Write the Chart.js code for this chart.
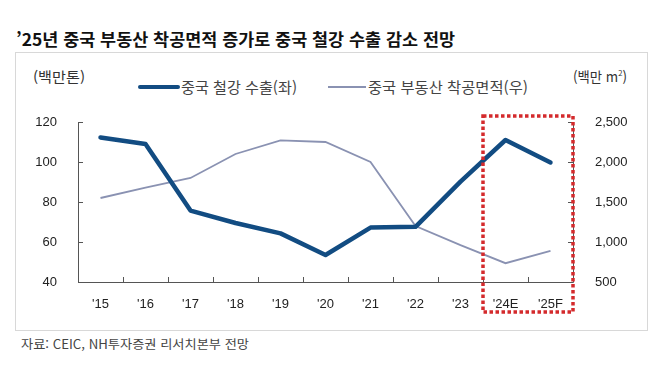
<!DOCTYPE html>
<html lang="ko">
<head>
<meta charset="utf-8">
<script src="https://cdn.jsdelivr.net/npm/chart.js@4.4.1/dist/chart.umd.min.js"></script>
<style>
  html, body { margin: 0; padding: 0; background: #fff; }
  body { width: 670px; height: 373px; position: relative; overflow: hidden; font-family: "Noto Sans CJK KR", "Noto Sans", sans-serif; }
  .abs { position: absolute; white-space: nowrap; line-height: 1; transform-origin: left center; display: inline-block; }
  #title { left: 16px; top: 30px; font-size: 17px; font-weight: bold; color: #111; }
  #frame { left: 15px; top: 52px; width: 631px; height: 277px; border: 1px solid #d8d8d8; }
  #source { left: 21px; top: 338px; font-size: 12.5px; color: #444; }
  .unit { top: 69px; font-size: 14px; color: #333; }
  .leg { top: 79px; font-size: 15px; color: #444; }
  .legline { position: absolute; }
  canvas { position: absolute; left: 0; top: 0; }
</style>
</head>
<body>
<div id="frame" style="position:absolute"></div>
<div class="abs" id="title" data-w="439">’25년 중국 부동산 착공면적 증가로 중국 철강 수출 감소 전망</div>
<div class="abs unit" style="left:33px" data-w="52">(백만톤)</div>
<div class="abs unit" style="left:573px" data-w="54">(백만 m<sup style="font-size:8px; line-height:0">2</sup>)</div>
<div class="legline" style="left:138px; top:85px; width:42px; height:4px; background:#124c82; border-radius:2px"></div>
<div class="abs leg" style="left:181px" data-w="116">중국 철강 수출(좌)</div>
<div class="legline" style="left:328px; top:86px; width:38px; height:1.5px; background:#8a92b2"></div>
<div class="abs leg" style="left:368px" data-w="160">중국 부동산 착공면적(우)</div>
<div class="abs" id="source" data-w="228">자료: CEIC, NH투자증권 리서치본부 전망</div>
<canvas id="chart" width="670" height="373"></canvas>
<script>
const years = ["'15", "'16", "'17", "'18", "'19", "'20", "'21", "'22", "'23", "'24E", "'25F"];
const steelExports = [112.3, 109, 75.7, 69.5, 64.3, 53.5, 67.2, 67.6, 90.2, 111, 99.8];
const startedArea = [1550, 1680, 1800, 2100, 2270, 2250, 2000, 1200, 960, 735, 890];
const forecastFrom = 9; // '24E

// squeeze the html text to the widths seen in the picture
document.querySelectorAll('[data-w]').forEach(el => {
  const w = el.getBoundingClientRect().width;
  el.style.transform = 'scaleX(' + (Number(el.dataset.w) / w) + ')';
});

const tickFont = { family: 'Liberation Sans, Arial, sans-serif', size: 13 };

const axisDecor = {
  id: 'axisDecor',
  afterDatasetsDraw(chart) {
    const { ctx, chartArea: a, scales } = chart;
    ctx.save();
    ctx.strokeStyle = '#555';
    ctx.lineWidth = 1;
    ctx.beginPath();
    ctx.moveTo(a.left + 0.5, a.top);
    ctx.lineTo(a.left + 0.5, a.bottom + 0.5);
    ctx.lineTo(a.right + 0.5, a.bottom + 0.5);
    ctx.lineTo(a.right + 0.5, a.top);
    scales.y.ticks.forEach((t, i) => {
      const py = Math.round(scales.y.getPixelForTick(i)) + 0.5;
      ctx.moveTo(a.left, py); ctx.lineTo(a.left + 5, py);
    });
    scales.y1.ticks.forEach((t, i) => {
      const py = Math.round(scales.y1.getPixelForTick(i)) + 0.5;
      ctx.moveTo(a.right, py); ctx.lineTo(a.right - 5, py);
    });
    for (let i = 1; i < years.length; i++) {
      const px = Math.round((scales.x.getPixelForValue(i - 1) + scales.x.getPixelForValue(i)) / 2) + 0.5;
      ctx.moveTo(px, a.bottom); ctx.lineTo(px, a.bottom - 5);
    }
    ctx.stroke();

    // forecast box
    const left = (scales.x.getPixelForValue(forecastFrom - 1) + scales.x.getPixelForValue(forecastFrom)) / 2;
    ctx.strokeStyle = '#d42a2c';
    ctx.lineWidth = 3.5;
    ctx.setLineDash([3.5, 2.5]);
    ctx.strokeRect(left, a.top - 6, a.right - left, a.bottom - a.top + 36);
    ctx.restore();
  }
};

new Chart(document.getElementById('chart'), {
  type: 'line',
  data: {
    labels: years,
    datasets: [
      {
        label: '중국 철강 수출(좌)',
        data: steelExports,
        yAxisID: 'y',
        borderColor: '#124c82',
        borderWidth: 4.5,
        borderJoinStyle: 'round',
        borderCapStyle: 'round',
        pointRadius: 0,
        tension: 0
      },
      {
        label: '중국 부동산 착공면적(우)',
        data: startedArea,
        yAxisID: 'y1',
        borderColor: '#8a92b2',
        borderWidth: 1.8,
        pointRadius: 0,
        tension: 0
      }
    ]
  },
  options: {
    responsive: false,
    animation: false,
    locale: 'en-US',
    layout: { padding: { top: 122, left: 0, right: 0, bottom: 0 } },
    plugins: {
      legend: { display: false },
      tooltip: { enabled: false }
    },
    scales: {
      x: {
        offset: true,
        grid: { display: false },
        border: { display: false },
        ticks: { font: tickFont, color: '#222', padding: 7, maxRotation: 0 },
        afterFit(scale) { scale.height = 91; }
      },
      y: {
        position: 'left',
        min: 40, max: 120,
        grid: { display: false },
        border: { display: false },
        ticks: { stepSize: 20, font: tickFont, color: '#222', padding: 13 },
        afterFit(scale) { scale.width = 78; }
      },
      y1: {
        position: 'right',
        min: 500, max: 2500,
        grid: { display: false },
        border: { display: false },
        ticks: { stepSize: 500, font: tickFont, color: '#222', padding: 14 },
        afterFit(scale) { scale.width = 97; }
      }
    }
  },
  plugins: [axisDecor]
});
</script>
</body>
</html>
